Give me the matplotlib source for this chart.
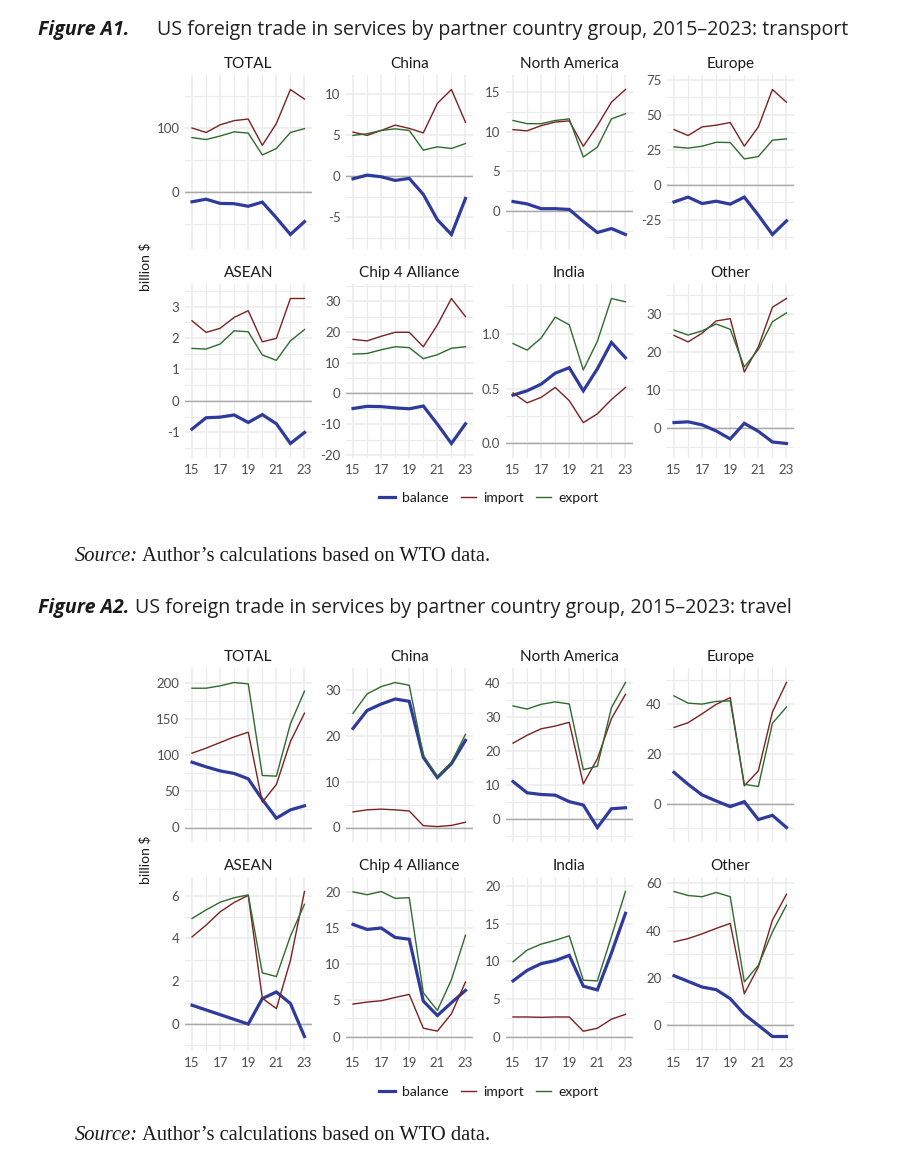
import matplotlib
matplotlib.use('Agg')
import matplotlib.pyplot as plt
from matplotlib.lines import Line2D
from matplotlib.ticker import FixedLocator, MultipleLocator, AutoMinorLocator, FuncFormatter

plt.rcParams['font.family'] = ['Lato', 'DejaVu Sans']

# ---- data (billion $) ----
years = [2015, 2016, 2017, 2018, 2019, 2020, 2021, 2022, 2023]
groups = ['TOTAL', 'China', 'North America', 'Europe',
          'ASEAN', 'Chip 4 Alliance', 'India', 'Other']

transport_balance = [
    [-15, -11, -17.5, -18, -22, -15.5, -40, -66, -46],
    [-0.3, 0.15, -0.05, -0.5, -0.25, -2.2, -5.3, -7.1, -2.7],
    [1.2, 0.9, 0.3, 0.3, 0.2, -1.3, -2.7, -2.2, -2.95],
    [-12.4, -9, -13.6, -11.9, -14, -9, -21.9, -35.7, -26],
    [-0.9, -0.54, -0.52, -0.45, -0.69, -0.44, -0.73, -1.36, -1.01],
    [-4.9, -4.2, -4.3, -4.7, -5.0, -4.1, -10, -16.3, -9.9],
    [0.44, 0.48, 0.54, 0.64, 0.69, 0.48, 0.68, 0.92, 0.78],
    [1.5, 1.7, 0.9, -0.7, -2.8, 1.3, -0.8, -3.6, -4.0],
]
transport_import = [
    [100, 93, 105, 111.5, 114, 73, 107, 160, 145],
    [5.4, 5.0, 5.6, 6.25, 5.85, 5.3, 8.9, 10.6, 6.6],
    [10.25, 10.1, 10.75, 11.2, 11.35, 8.15, 10.75, 13.7, 15.3],
    [39.3, 35, 41.2, 42.4, 44.3, 27.4, 41.2, 67.9, 58.8],
    [2.55, 2.18, 2.31, 2.66, 2.87, 1.88, 1.99, 3.26, 3.26],
    [17.6, 17.1, 18.6, 19.9, 19.9, 15.2, 22.3, 30.9, 25],
    [0.46, 0.37, 0.42, 0.51, 0.39, 0.19, 0.27, 0.40, 0.51],
    [24.4, 22.7, 25, 28.2, 28.8, 14.8, 21.4, 31.8, 34.1],
]
transport_export = [
    [85, 82, 87.5, 94, 92, 58, 68, 93, 99],
    [5.0, 5.2, 5.6, 5.8, 5.6, 3.2, 3.6, 3.4, 4.0],
    [11.4, 11.0, 11.0, 11.4, 11.6, 6.8, 8.05, 11.6, 12.25],
    [26.9, 26, 27.4, 30.2, 30, 18.3, 20, 31.7, 32.6],
    [1.67, 1.65, 1.81, 2.23, 2.2, 1.46, 1.29, 1.91, 2.27],
    [12.8, 13.0, 14.2, 15.2, 14.9, 11.3, 12.6, 14.7, 15.2],
    [0.91, 0.85, 0.96, 1.15, 1.08, 0.67, 0.93, 1.32, 1.29],
    [25.8, 24.5, 25.6, 27.4, 26, 16.1, 20.7, 28, 30.3],
]

travel_balance = [
    [90.3, 83.9, 78.3, 74.7, 67.3, 38.7, 12.9, 24.4, 30],
    [21.6, 25.5, 26.9, 28, 27.5, 15.3, 10.9, 13.9, 19],
    [11, 7.7, 7.2, 7, 5.1, 4.1, -2.5, 3, 3.3],
    [12.6, 7.8, 3.5, 1.1, -1.2, 0.8, -6.4, -4.7, -9.6],
    [0.88, 0.66, 0.44, 0.22, 0.0, 1.19, 1.5, 0.96, -0.58],
    [15.5, 14.8, 15.0, 13.7, 13.45, 4.9, 2.9, 4.67, 6.37],
    [7.4, 8.8, 9.7, 10.1, 10.8, 6.7, 6.2, 11.1, 16.4],
    [21, 18.6, 16.2, 15.1, 11.3, 4.7, 0, -4.7, -4.7],
]
travel_import = [
    [102.8, 109.7, 117.5, 125.3, 131.8, 35, 59.4, 118.9, 158],
    [3.4, 3.85, 4.0, 3.85, 3.6, 0.4, 0.2, 0.45, 1.15],
    [22.3, 24.6, 26.5, 27.3, 28.4, 10.3, 17.7, 29.5, 36.6],
    [30.7, 32.6, 36.2, 40, 42.7, 7.2, 13.2, 36.9, 48.8],
    [4.07, 4.62, 5.24, 5.68, 6.01, 1.21, 0.72, 2.97, 6.19],
    [4.48, 4.76, 4.94, 5.4, 5.82, 1.15, 0.74, 3.14, 7.53],
    [2.6, 2.6, 2.55, 2.6, 2.6, 0.7, 1.1, 2.3, 2.95],
    [35.3, 36.7, 38.7, 41, 43.1, 13.4, 24.7, 44.5, 55.4],
]
travel_export = [
    [192.6, 192.6, 195.9, 200.5, 198.6, 71.9, 71, 143.3, 188.5],
    [24.9, 29.1, 30.7, 31.6, 31.0, 15.7, 11.1, 14.2, 20.3],
    [33.2, 32.3, 33.7, 34.4, 33.8, 14.5, 15.5, 32.7, 40.1],
    [43.4, 40.5, 40.1, 41.2, 41.4, 7.8, 6.9, 32.4, 38.9],
    [4.93, 5.33, 5.69, 5.9, 6.03, 2.39, 2.22, 4.11, 5.59],
    [20, 19.6, 20.05, 19.1, 19.2, 6.05, 3.6, 7.85, 14],
    [9.95, 11.5, 12.3, 12.8, 13.4, 7.5, 7.4, 13.3, 19.3],
    [56.6, 54.9, 54.4, 56.2, 54.4, 18.4, 25.4, 39.5, 50.8],
]

transport_yticks = [[0, 100], [-5, 0, 5, 10], [0, 5, 10, 15], [-25, 0, 25, 50, 75],
                    [-1, 0, 1, 2, 3], [-20, -10, 0, 10, 20, 30], [0.0, 0.5, 1.0],
                    [0, 10, 20, 30]]
travel_yticks = [[0, 50, 100, 150, 200], [0, 10, 20, 30], [0, 10, 20, 30, 40],
                 [0, 20, 40], [0, 2, 4, 6], [0, 5, 10, 15, 20], [0, 5, 10, 15, 20],
                 [0, 20, 40, 60]]

C_BAL = '#2E3A9C'
C_IMP = '#7A2222'
C_EXP = '#2F6A2F'
GRID = '#EBEBEB'

W, H = 921, 1158
fig = plt.figure(figsize=(W / 100, H / 100), dpi=100)


def rect(left, top, w, h):
    return [left / W, 1 - (top + h) / H, w / W, h / H]


PANEL_LEFT = [185, 346, 506, 667]
PANEL_W, PANEL_H = 126.5, 174


def panel(left, top, name, bal, imp, exp, yticks, bottom):
    ax = fig.add_axes(rect(left, top, PANEL_W, PANEL_H))
    ax.plot(years, bal, color=C_BAL, lw=2.3, solid_joinstyle='miter', zorder=3)
    ax.plot(years, imp, color=C_IMP, lw=1.0, zorder=3)
    ax.plot(years, exp, color=C_EXP, lw=1.0, zorder=3)
    ax.axhline(0, color='#A8A8A8', lw=1.0, zorder=2)
    lo = min(min(bal), min(imp), min(exp), 0)
    hi = max(max(bal), max(imp), max(exp), 0)
    span = hi - lo
    ax.set_ylim(lo - 0.1 * span, hi + 0.1 * span)
    ax.set_xlim(2014.5, 2023.5)
    ax.yaxis.set_major_locator(FixedLocator(yticks))
    ax.yaxis.set_minor_locator(AutoMinorLocator(2))
    ax.xaxis.set_major_locator(MultipleLocator(2, offset=1))
    ax.xaxis.set_minor_locator(MultipleLocator(1))
    ax.xaxis.set_major_formatter(FuncFormatter(lambda v, p: f'{int(v) % 100:02d}'))
    if yticks[1] - yticks[0] < 1:
        ax.yaxis.set_major_formatter(FuncFormatter(lambda v, p: f'{v:.1f}'))
    else:
        ax.yaxis.set_major_formatter(FuncFormatter(lambda v, p: f'{v:g}'))
    ax.grid(which='major', color=GRID, lw=1.1, zorder=0)
    ax.grid(which='minor', color=GRID, lw=0.8, zorder=0)
    ax.set_axisbelow(True)
    for s in ax.spines.values():
        s.set_visible(False)
    ax.tick_params(which='both', length=0, labelsize=9.5, labelcolor='#4D4D4D', pad=4)
    if not bottom:
        ax.tick_params(axis='x', labelbottom=False)
    ax.set_title(name, fontsize=11, color='#1A1A1A', pad=5)
    return ax


def figure_block(row_tops, bal_all, imp_all, exp_all, yticks_all, legend_y):
    for k, name in enumerate(groups):
        r, c = divmod(k, 4)
        panel(PANEL_LEFT[c], row_tops[r], name, bal_all[k], imp_all[k], exp_all[k],
              yticks_all[k], bottom=(r == 1))
    mid = (row_tops[0] + row_tops[1] + PANEL_H) / 2
    fig.text(145 / W, 1 - mid / H, 'billion $', rotation=90, ha='center', va='center',
             fontsize=10, color='#1A1A1A')
    handles = [Line2D([], [], color=C_BAL, lw=2.3),
               Line2D([], [], color=C_IMP, lw=1.0),
               Line2D([], [], color=C_EXP, lw=1.0)]
    fig.legend(handles, ['balance', 'import', 'export'], loc='center',
               bbox_to_anchor=(489 / W, 1 - legend_y / H), ncol=3, frameon=False,
               fontsize=10, handlelength=1.1, handletextpad=0.5, columnspacing=0.9,
               labelcolor='#1A1A1A')


def header(y, label, text, x_text=None, gap=6):
    t = fig.text(38 / W, 1 - y / H, label, fontsize=14.1, fontweight='bold',
                 style='italic', family='Open Sans', va='center', color='#1A1A1A')
    if x_text is None:
        fig.canvas.draw()
        x_text = t.get_window_extent().x1 + gap
    fig.text(x_text / W, 1 - y / H, text, fontsize=14.1, family='Open Sans',
             va='center', color='#222222')


def source(y):
    t = fig.text(75 / W, 1 - y / H, 'Source:', fontsize=14.8, style='italic',
                 family='Liberation Serif', va='center', color='#1A1A1A')
    fig.canvas.draw()
    bb = t.get_window_extent()
    fig.text((bb.x1 + 4) / W, 1 - y / H, 'Author\u2019s calculations based on WTO data.',
             fontsize=14.8, family='Liberation Serif', va='center', color='#1A1A1A')


header(30, 'Figure A1.',
       'US foreign trade in services by partner country group, 2015\u20132023: transport', 157)
figure_block([75, 284], transport_balance, transport_import, transport_export,
             transport_yticks, 498)
source(556)

header(608, 'Figure A2.',
       'US foreign trade in services by partner country group, 2015\u20132023: travel')
figure_block([668, 877], travel_balance, travel_import, travel_export,
             travel_yticks, 1092)
source(1135)

fig.savefig('out.png', dpi=100, facecolor='white')
